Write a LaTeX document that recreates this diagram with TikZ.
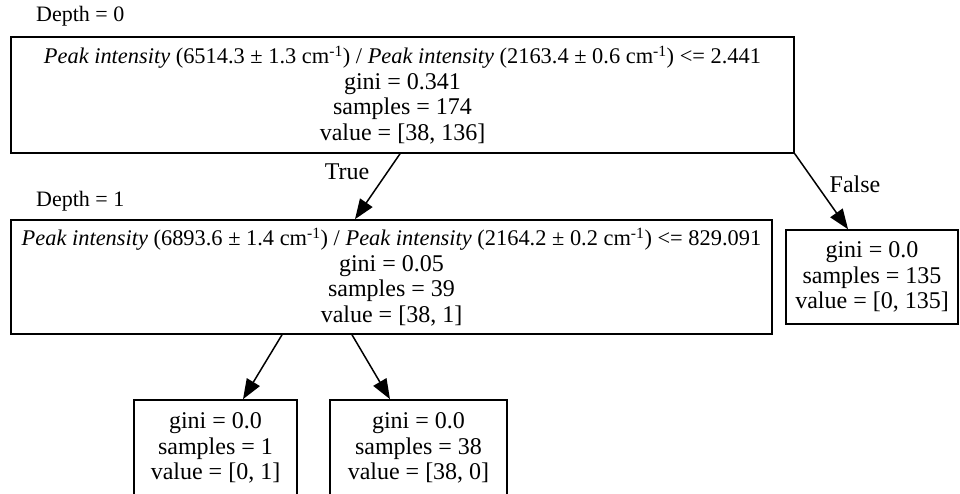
\documentclass[tikz,border=0pt]{standalone}
\usepackage{fontspec}
\setmainfont{Liberation Serif}
\usetikzlibrary{arrows.meta}

\newcommand{\splitline}[1]{{\fontsize{22.4}{25.5}\selectfont #1}}

\begin{document}
\begin{tikzpicture}[x=1pt, y=-1pt, >={Triangle[length=20pt,width=15pt]},
    treebox/.style={draw, line width=1.6pt, inner sep=0pt, align=center,
        font=\fontsize{24}{25.5}\selectfont},
    edge/.style={->, line width=1.5pt},
    lbl/.style={font=\fontsize{24}{25.5}\selectfont, inner sep=0pt}]
    \useasboundingbox (0,0) rectangle (960,494);

    % Depth labels
    \node[lbl, font=\fontsize{22}{25}\selectfont, anchor=west] (dep0) at (36,16) {Depth = 0};
    \node[lbl, font=\fontsize{22}{25}\selectfont, anchor=west] (dep1) at (36,201) {Depth = 1};

    % Root split
    \node[treebox, minimum width=783pt, minimum height=116pt] (root) at (402.5,95)
        {\splitline{\textit{Peak intensity} (6514.3 ± 1.3 cm\textsuperscript{-1}) / \textit{Peak intensity} (2163.4 ± 0.6 cm\textsuperscript{-1}) <= 2.441}\\
         gini = 0.341\\ samples = 174\\ value = [38, 136]};

    % Second split
    \node[treebox, minimum width=761pt, minimum height=114pt] (split) at (391.5,277)
        {\splitline{\textit{Peak intensity} (6893.6 ± 1.4 cm\textsuperscript{-1}) / \textit{Peak intensity} (2164.2 ± 0.2 cm\textsuperscript{-1}) <= 829.091}\\
         gini = 0.05\\ samples = 39\\ value = [38, 1]};

    % Leaves
    \node[treebox, minimum width=172pt, minimum height=94pt] (leafR) at (872,277)
        {gini = 0.0\\ samples = 135\\ value = [0, 135]};
    \node[treebox, minimum width=163pt, minimum height=96pt] (leafA) at (215.5,448)
        {gini = 0.0\\ samples = 1\\ value = [0, 1]};
    \node[treebox, minimum width=177pt, minimum height=96pt] (leafB) at (418.5,448)
        {gini = 0.0\\ samples = 38\\ value = [38, 0]};

    % Edges
    \draw[edge] ([xshift=-2.5pt]root.south) -- ([xshift=-36.5pt]split.north);
    \draw[edge] (root.south east) -- ([xshift=-24pt]leafR.north);
    \draw[edge] ([xshift=-109.5pt]split.south) -- ([xshift=27.5pt]leafA.north);
    \draw[edge] ([xshift=-39.5pt]split.south) -- ([xshift=-28.5pt]leafB.north);

    \node[lbl] (tlbl) at (347,172) {True};
    \node[lbl] (flbl) at (855,184) {False};
\end{tikzpicture}
\end{document}
